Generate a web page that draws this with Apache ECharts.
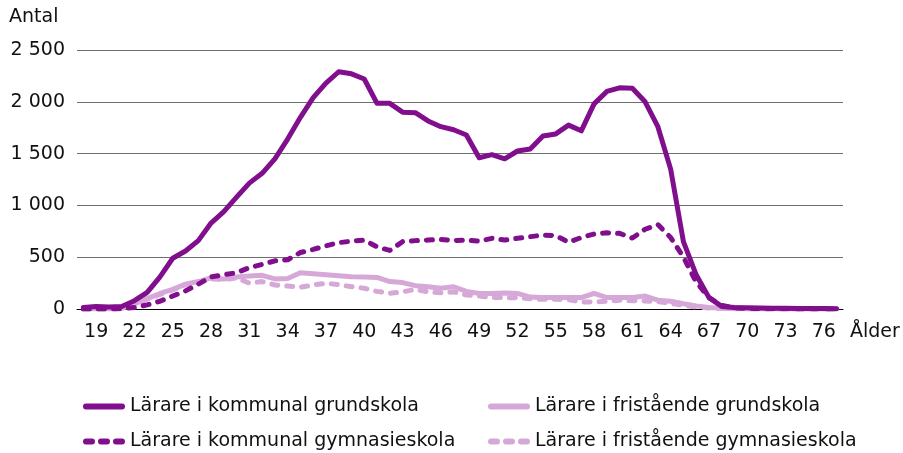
<!DOCTYPE html>
<html>
<head>
<meta charset="utf-8">
<script src="https://cdn.jsdelivr.net/npm/echarts@6/dist/echarts.min.js"></script>
<style>
    html, body { margin:0; padding:0; background:#fff; }
    #chart { width:903px; height:453px; }
</style>
</head>
<body>
<div id="chart"></div>
<script>
// ålder 18-77
const ages = ['18','19','20','21','22','23','24','25','26','27',
    '28','29','30','31','32','33','34','35','36','37',
    '38','39','40','41','42','43','44','45','46','47',
    '48','49','50','51','52','53','54','55','56','57',
    '58','59','60','61','62','63','64','65','66','67',
    '68','69','70','71','72','73','74','75','76','77'];

const kommunalGrund = [15,25,20,25,80,160,310,490,560,660,
    830,940,1080,1215,1310,1450,1640,1850,2040,2180,
    2290,2270,2220,1985,1985,1900,1895,1815,1760,1730,
    1680,1460,1490,1450,1525,1545,1670,1690,1775,1720,
    1980,2100,2135,2130,2000,1760,1350,650,330,110,
    25,15,12,10,8,7,6,5,4,3];

const kommunalGymn = [0,0,0,3,15,40,75,125,175,240,
    310,330,350,400,430,465,475,545,575,610,
    640,655,665,600,565,650,660,665,672,660,
    666,655,682,666,682,698,714,708,645,690,
    724,735,730,685,770,815,690,500,260,110,
    35,10,5,3,2,2,1,1,0,0];

const friGrund = [0,0,0,5,50,100,150,190,240,265,
    300,290,310,318,325,290,295,350,340,330,
    320,312,310,305,265,255,225,215,200,215,
    170,150,150,155,150,115,112,110,112,110,
    150,110,110,112,125,85,75,50,30,15,
    8,5,3,2,2,1,1,1,0,0];

const friGymn = [0,0,0,5,45,95,140,185,235,260,
    290,285,300,250,265,232,222,210,232,248,
    235,215,200,170,152,165,190,165,157,165,
    135,125,110,110,108,100,93,93,90,68,
    67,75,85,80,78,70,55,35,20,10,
    5,2,1,1,1,0,0,0,0,0];

const yTicks = [0, 500, 1000, 1500, 2000, 2500];

const names = ['Lärare i kommunal grundskola', 'Lärare i fristående grundskola',
    'Lärare i kommunal gymnasieskola', 'Lärare i fristående gymnasieskola'];

const dark = '#800e8d';
const light = '#d6a8d8';
const font = 'DejaVu Sans';

function legendAt(name, left, top) {
    return {
        data: [name],
        left: left,
        top: top,
        itemWidth: 36,
        itemHeight: 14,
        lineStyle: { width: 6 },
        itemStyle: { opacity: 0 },
        textStyle: { fontFamily: font, fontSize: 19, color: '#111', padding: [0,0,0,3] }
    };
}

function lineSeries(name, data, color, dashed) {
    return {
        name: name,
        type: 'line',
        data: data,
        symbol: 'none',
        smooth: false,
        lineStyle: {
            color: color,
            width: 5,
            type: dashed ? [6, 9] : 'solid',
            cap: 'round',
            join: 'round'
        },
        itemStyle: { color: color }
    };
}

let myChart = echarts.init(document.getElementById('chart'));
myChart.setOption({
    animation: false,
    title: {
        text: 'Antal',
        left: 4,
        top: 3,
        textStyle: { fontFamily: font, fontSize: 19, fontWeight: 'normal', color: '#111' }
    },
    legend: [
        legendAt(names[0], 78, 392),
        legendAt(names[1], 483, 392),
        legendAt(names[2], 78, 427),
        legendAt(names[3], 483, 427)
    ],
    grid: { left: 77, right: 60, top: 50, bottom: 144 },
    xAxis: {
        type: 'category',
        data: ages,
        boundaryGap: true,
        name: 'Ålder',
        nameLocation: 'end',
        nameGap: 7,
        nameTextStyle: { fontFamily: font, fontSize: 19, color: '#111', verticalAlign: 'top', padding: [14,0,0,0] },
        axisLine: { lineStyle: { color: '#000', width: 1 } },
        axisTick: { interval: 2, length: 8, lineStyle: { color: '#000' } },
        axisLabel: {
            interval: function (i) { return i % 3 === 1; },
            margin: 14,
            fontFamily: font,
            fontSize: 19,
            color: '#111'
        }
    },
    yAxis: {
        type: 'value',
        min: yTicks[0],
        max: yTicks[yTicks.length - 1],
        interval: 500,
        axisLine: { show: false },
        axisTick: { show: false },
        splitLine: { lineStyle: { color: '#6f6f6f', width: 1 } },
        axisLabel: {
            margin: 12,
            fontFamily: font,
            fontSize: 19,
            color: '#111',
            formatter: function (v) { return String(v).replace(/\B(?=(\d{3})+(?!\d))/g, ' '); }
        }
    },
    // ljusa linjer under, mörka över
    series: [
        lineSeries(names[3], friGymn, light, true),
        lineSeries(names[1], friGrund, light, false),
        lineSeries(names[2], kommunalGymn, dark, true),
        lineSeries(names[0], kommunalGrund, dark, false)
    ]
});
</script>
</body>
</html>
